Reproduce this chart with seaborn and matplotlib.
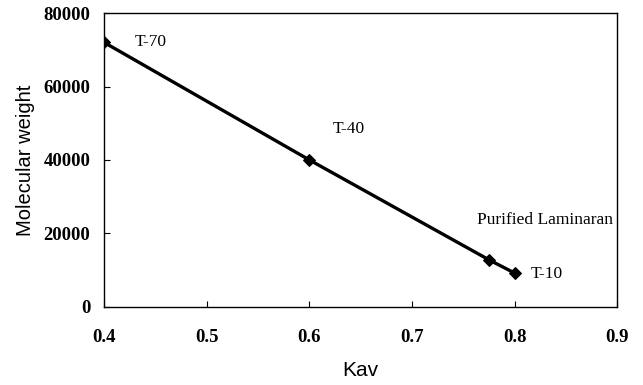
import seaborn as sns
import matplotlib.pyplot as plt
import pandas as pd

# Standards
names = ["T-70", "T-40", "Purified Laminaran", "T-10"]
kav = [0.40, 0.60, 0.775, 0.80]
mol_weight = [72000, 40000, 12800, 9200]

df = pd.DataFrame({"Kav": kav, "MW": mol_weight, "name": names})

sns.set_style("ticks")
fig, ax = plt.subplots(figsize=(6.43, 3.85), dpi=100)
fig.subplots_adjust(left=0.162, right=0.96, top=0.966, bottom=0.203)

sns.lineplot(data=df, x="Kav", y="MW", color="black", linewidth=2.4,
             marker="D", markersize=6, markeredgecolor="black", ax=ax)

# point labels
label_pos = {"T-70": (0.43, 72200), "T-40": (0.623, 48500),
             "Purified Laminaran": (0.763, 23600), "T-10": (0.816, 8900)}
for n in names:
    x, y = label_pos[n]
    ax.text(x, y, n, family="Liberation Serif", fontsize=12.5, color="black",
            va="center", ha="left")

ax.set_xlim(0.4, 0.9)
ax.set_ylim(0, 80000)
ax.set_xticks([0.4, 0.5, 0.6, 0.7, 0.8, 0.9])
ax.set_yticks([0, 20000, 40000, 60000, 80000])
ax.tick_params(direction="in", length=4, width=0.8, colors="black")
ax.tick_params(axis="x", pad=16)
ax.tick_params(axis="y", pad=10)
for lab in ax.get_xticklabels() + ax.get_yticklabels():
    lab.set_family("Liberation Serif")
    lab.set_fontweight("bold")
    lab.set_fontsize(13.5)
for sp in ax.spines.values():
    sp.set_visible(True)
    sp.set_linewidth(1.0)
    sp.set_color("black")

ax.set_xlabel("Kav", family="Liberation Sans", fontsize=15, color="black", labelpad=11)
ax.set_ylabel("Molecular weight", family="Liberation Sans", fontsize=14.5,
              color="black", labelpad=6)

plt.savefig("out.png", dpi=100)
